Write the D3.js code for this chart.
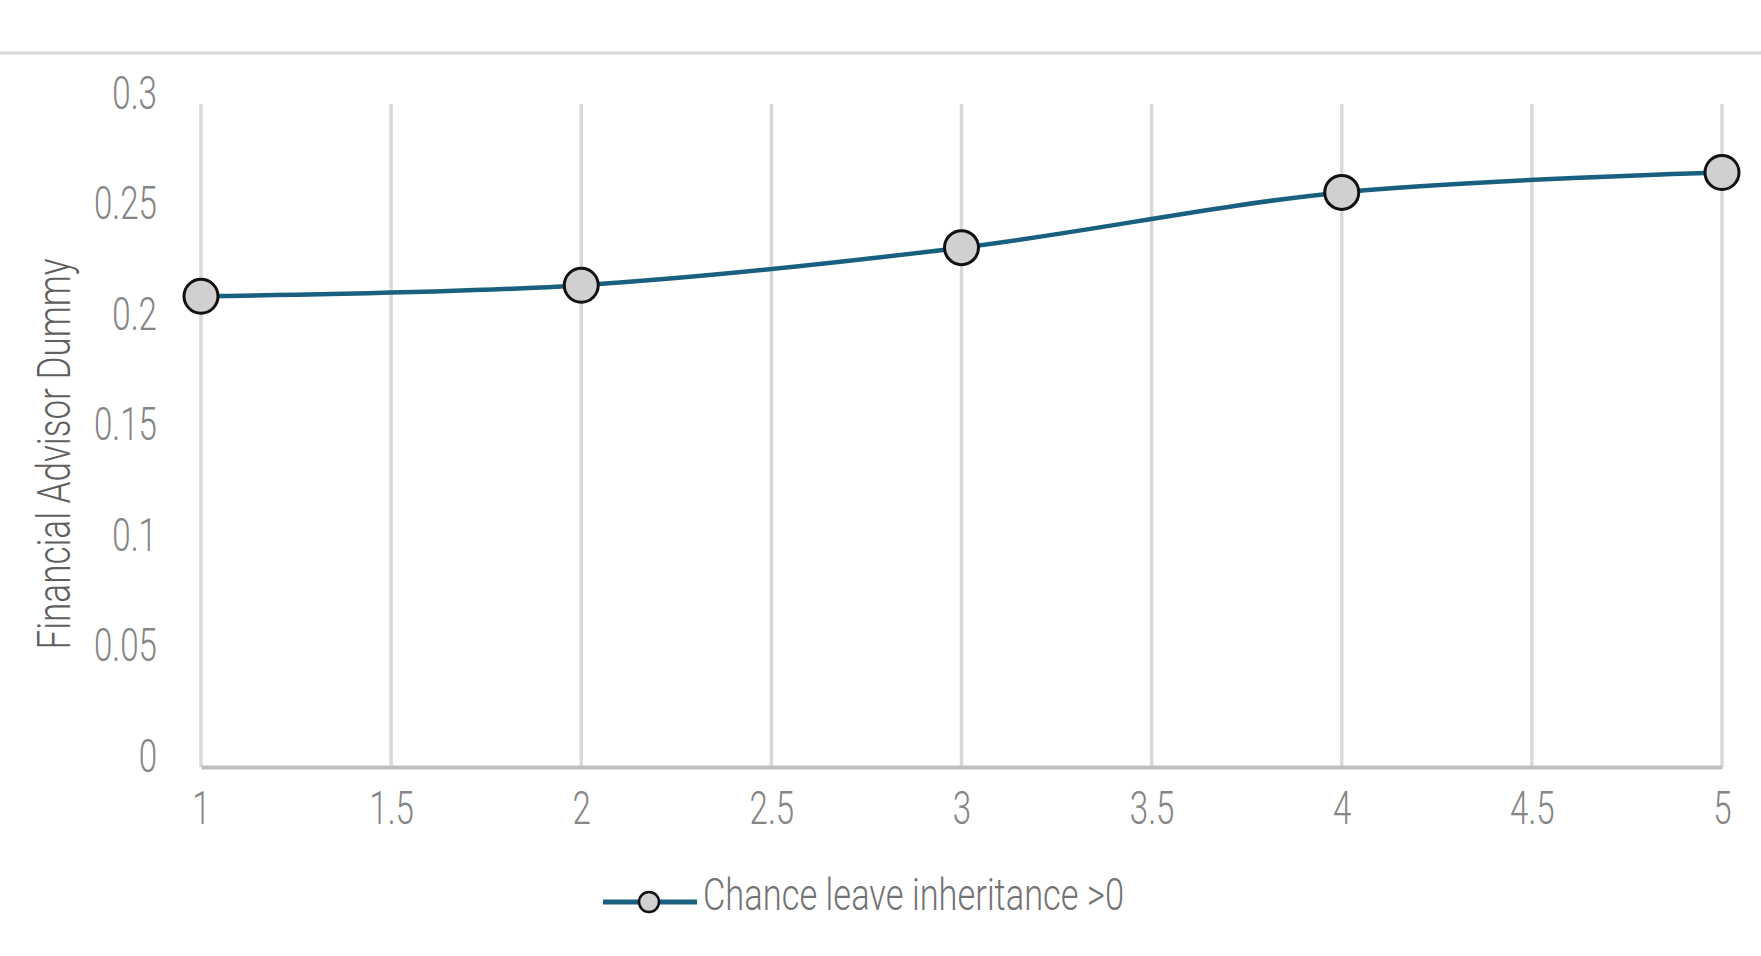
<!DOCTYPE html>
<html>
<head>
<meta charset="utf-8">
<script src="https://cdn.jsdelivr.net/npm/d3@7"></script>
<style>
  html, body { margin: 0; padding: 0; background: #fff; }
  svg { display: block; }
</style>
</head>
<body>
<svg id="chart" width="1761" height="956"></svg>
<script>
// Series data
const xValues = [1, 2, 3, 4, 5];
const yValues = [0.213, 0.218, 0.235, 0.260, 0.269];
const seriesName = "Chance leave inheritance >0";
const yTitle = "Financial Advisor Dummy";

// Axis ticks
const xTicks = [1, 1.5, 2, 2.5, 3, 3.5, 4, 4.5, 5];
const yTicks = [0, 0.05, 0.1, 0.15, 0.2, 0.25, 0.3];

const W = 1761, H = 956;
const plot = { left: 201, right: 1722, top: 104, bottom: 767 };
const lineColor = "#195f80";
const font = "Roboto, 'Liberation Sans', Arial, sans-serif";
const squeeze = 0.72;

const svg = d3.select("#chart");

// Rule under the heading
svg.append("line")
  .attr("x1", 0).attr("x2", W)
  .attr("y1", 53).attr("y2", 53)
  .attr("stroke", "#d9d9d9").attr("stroke-width", 3);

const x = d3.scaleLinear().domain([1, 5]).range([plot.left, plot.right]);
const y = d3.scaleLinear().domain([0, 0.3]).range([plot.bottom, plot.top]);

// Vertical gridlines
svg.append("g")
  .selectAll("line")
  .data(xTicks)
  .join("line")
  .attr("x1", d => x(d)).attr("x2", d => x(d))
  .attr("y1", y(0.3)).attr("y2", y(0))
  .attr("stroke", "#d9d9d9").attr("stroke-width", 3.5);

// X axis
const gx = svg.append("g")
  .attr("transform", `translate(0,${plot.bottom})`)
  .call(d3.axisBottom(x).tickValues(xTicks).tickSize(0).tickFormat(d => String(d)));
gx.select(".domain").attr("stroke", "#bfbfbf").attr("stroke-width", 4);
gx.selectAll(".tick text")
  .attr("x", 0).attr("y", 0).attr("dy", "0.35em")
  .attr("transform", `translate(0,41) scale(${squeeze},1)`)
  .attr("font-family", font).attr("font-weight", 300)
  .attr("font-size", 46).attr("fill", "#858585");

// Y axis
const gy = svg.append("g")
  .attr("transform", `translate(${plot.left},0)`)
  .call(d3.axisLeft(y).tickValues(yTicks).tickSize(0).tickFormat(d => String(d)));
gy.select(".domain").remove();
gy.selectAll(".tick text")
  .attr("x", 0).attr("y", 0).attr("dy", "0.35em")
  .attr("text-anchor", "end")
  .attr("transform", `translate(-44,-12) scale(${squeeze},1)`)
  .attr("font-family", font).attr("font-weight", 300)
  .attr("font-size", 46).attr("fill", "#858585");

// Y axis title
svg.append("text")
  .attr("transform", "translate(70,454) rotate(-90)")
  .attr("text-anchor", "middle")
  .attr("textLength", 391).attr("lengthAdjust", "spacingAndGlyphs")
  .attr("font-family", font).attr("font-weight", 300)
  .attr("font-size", 46).attr("fill", "#5f5f5f")
  .text(yTitle);

// Smoothed series line
const pts = xValues.map((v, i) => [v, yValues[i]]);
svg.append("path")
  .datum(pts)
  .attr("fill", "none")
  .attr("stroke", lineColor)
  .attr("stroke-width", 4.5)
  .attr("stroke-linecap", "round")
  .attr("d", d3.line().x(d => x(d[0])).y(d => y(d[1])).curve(d3.curveCatmullRom.alpha(0)));

// Markers
svg.append("g")
  .selectAll("circle")
  .data(pts)
  .join("circle")
  .attr("cx", d => x(d[0])).attr("cy", d => y(d[1]))
  .attr("r", 17)
  .attr("fill", "#d0d0d0")
  .attr("stroke", "#111").attr("stroke-width", 3);

// Legend
const lg = svg.append("g").attr("transform", "translate(603,902)");
lg.append("line")
  .attr("x1", 0).attr("x2", 94).attr("y1", 0).attr("y2", 0)
  .attr("stroke", lineColor).attr("stroke-width", 5);
lg.append("circle")
  .attr("cx", 46).attr("cy", 0).attr("r", 10)
  .attr("fill", "#d0d0d0").attr("stroke", "#111").attr("stroke-width", 2.5);
lg.append("text")
  .attr("x", 100).attr("y", 8)
  .attr("textLength", 421).attr("lengthAdjust", "spacingAndGlyphs")
  .attr("font-family", font).attr("font-weight", 300)
  .attr("font-size", 44).attr("fill", "#737373")
  .text(seriesName);
</script>
</body>
</html>
